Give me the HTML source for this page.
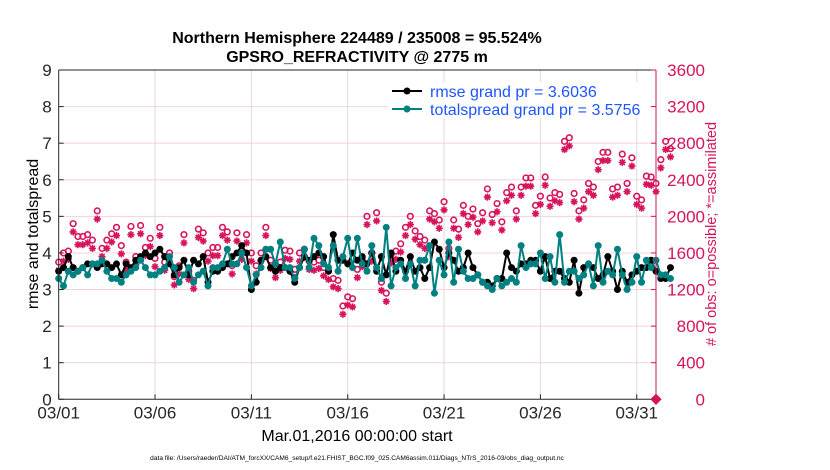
<!DOCTYPE html>
<html><head><meta charset="utf-8"><style>
body{margin:0;background:#fff;}
svg{display:block;font-family:"Liberation Sans",sans-serif;}
</style></head><body>
<svg id="chart" width="830" height="470" viewBox="0 0 830 470" xmlns="http://www.w3.org/2000/svg">
<text x="357" y="43" text-anchor="middle" font-size="16" font-weight="bold">Northern Hemisphere 224489 / 235008 = 95.524%</text>
<text x="357" y="62" text-anchor="middle" font-size="16" font-weight="bold">GPSRO_REFRACTIVITY @ 2775 m</text>
<g id="grid"></g>
<g id="marks"></g>
<g id="axes"></g>
<text transform="translate(38,234) rotate(-90)" text-anchor="middle" font-size="16">rmse and totalspread</text>
<text transform="translate(716,234) rotate(-90)" text-anchor="middle" font-size="14.5" fill="#d6135d"># of obs: o=possible; *=assimilated</text>
<text x="357" y="441" text-anchor="middle" font-size="16">Mar.01,2016 00:00:00 start</text>
<text x="357" y="460" text-anchor="middle" font-size="6.6">data file: /Users/raeder/DAI/ATM_forcXX/CAM6_setup/f.e21.FHIST_BGC.f09_025.CAM6assim.011/Diags_NTrS_2016-03/obs_diag_output.nc</text>
<g>
<rect x="388" y="82" width="262" height="36" fill="#fff"/>
<line x1="392" y1="91" x2="422" y2="91" stroke="#000" stroke-width="2"/><circle cx="407" cy="91" r="3.5" fill="#000"/>
<text x="430" y="97" font-size="16" fill="#1f55ff">rmse grand pr = 3.6036</text>
<line x1="392" y1="109" x2="422" y2="109" stroke="#008080" stroke-width="2"/><circle cx="407" cy="109" r="3.5" fill="#008080"/>
<text x="430" y="115" font-size="16" fill="#1f55ff">totalspread grand pr = 3.5756</text>
</g>
</svg>
<script>
const rmse=[3.5,3.6,3.9,3.6, 3.5,3.6,3.7,3.7, 3.6,3.7,3.7,3.6, 3.7,3.4,3.7,3.6, 3.8,3.9,4.0,3.9, 4.0,4.1,3.9,3.7,
3.4,3.6,3.8,3.4, 3.8,3.7,3.9,3.2, 3.5,3.5,3.6,3.7, 3.9,4.0,4.2,4.0, 3.0,3.2,3.8,3.9, 3.6,3.5,3.6,3.6,
3.5,3.2,3.6,3.9, 3.8,3.9,4.0,3.9, 3.5,4.5,3.8,3.8, 3.7,4.0,3.8,3.9, 3.7,4.0,3.5,3.9, 3.4,4.0,3.5,3.8,
3.5,3.9,3.5,3.6, 3.3,3.6,4.3,4.1, 3.6,4.0,3.8,3.5, 3.6,4.0,3.6,3.4, 3.2,3.2,3.1,3.3, 3.3,4.0,3.6,3.5,
3.7,3.7,3.8,3.8, 3.5,3.9,3.3,3.5, 3.5,3.3,3.2,3.8, 2.9,3.6,3.7,3.6, 3.3,3.4,3.9,3.5, 3.0,3.5,3.2,3.4,
3.5,3.6,3.6,3.8, 3.5,3.3,3.3,3.6];
const spread=[3.3,3.1,3.5,3.4, 3.5,3.6,3.4,3.7, 3.7,3.8,3.5,3.3, 3.3,3.2,3.4,3.5, 3.6,3.8,3.6,3.4, 3.4,3.5,3.6,3.9,
3.6,3.2,3.4,3.6, 3.2,3.4,3.5,3.1, 3.6,3.6,3.7,4.1, 3.7,3.7,4.0,3.6, 3.1,3.4,3.6,4.1, 4.1,3.7,4.3,3.6,
3.6,3.3,3.6,4.1, 3.6,4.4,4.2,3.7, 3.6,4.2,3.5,3.9, 4.4,3.6,4.4,3.7, 3.5,4.2,3.6,3.3, 4.7,3.1,3.6,3.7,
3.3,3.7,3.1,3.8, 3.8,4.2,2.9,3.8, 3.4,4.3,3.2,4.1, 3.5,3.3,3.3,3.4, 3.2,3.1,3.0,3.3, 3.1,3.2,3.3,3.2,
4.2,3.6,3.7,3.7, 4.0,3.3,3.9,3.2, 4.5,3.2,3.5,3.5, 3.3,3.4,3.7,3.1, 4.2,3.2,3.5,3.4, 4.1,3.4,3.0,3.2,
3.9,3.2,3.8,3.6, 3.8,3.4,3.4,3.3];
const possible=[1500,1600,1620,1920, 1780,1780,1800,1740, 2060,1650,1740,1810, 1880,1680,1500,1890, 1560,1900,1660,1760, 1540,1880,1500,1600,
1340,1460,1800,1400, 1300,1860,1820,1600, 1660,1660,1880,1830, 1460,1820,1620,1800, 1600,1460,1600,1880, 1520,1420,1500,1630,
1620,1420,1600,1640, 1510,1500,1520,1440, 1400,1320,1300,1020, 1120,1100,1420,1540, 2000,1600,2040,1280, 1160,1580,1620,1700,
1880,2000,1840,1780, 1740,2060,2030,1960, 2160,1650,1960,1860, 2120,2000,2080,1920, 2040,2300,2020,2140, 1940,2260,2320,2060,
2320,2420,2420,2120, 2220,2430,2200,2260, 2240,2820,2860,2250, 2060,2180,2360,2320, 2600,2700,2700,2300, 2320,2680,2360,2640,
2220,2180,2440,2430, 2360,2620,2820,2740];
const assimilated=possible.map(v=>v-90);
const xTickLabels=["03/01","03/06","03/11","03/16","03/21","03/26","03/31"];
const xTickDays=[0,5,10,15,20,25,30];
const yTicks=[0,1,2,3,4,5,6,7,8,9];
const y2Ticks=[0,400,800,1200,1600,2000,2400,2800,3200,3600];

const L=58.7,R=656,T=70,B=399.3;
const NS="http://www.w3.org/2000/svg";
const xs=d=>L+(R-L)*d/31;
const ys=v=>B-(B-T)*v/9;
const ys2=v=>B-(B-T)*v/3600;
const grid=document.getElementById('grid'),marks=document.getElementById('marks'),axes=document.getElementById('axes');
function mk(tag,attrs,parent){const e=document.createElementNS(NS,tag);for(const k in attrs)e.setAttribute(k,attrs[k]);parent.appendChild(e);return e;}
yTicks.forEach(v=>{if(v>0&&v<9){const l=mk('line',{x1:L,x2:R,y1:ys(v),y2:ys(v),stroke:'#f5d0dd','stroke-width':1},grid);

}});
xTickDays.forEach(d=>{if(d>0){const l=mk('line',{x1:xs(d),x2:xs(d),y1:T,y2:B,stroke:'#dcdcdc','stroke-width':1},grid);

}});
const t=i=>i/4;
possible.forEach((v,i)=>{const c=mk('circle',{cx:xs(t(i)),cy:ys2(v),r:2.8,fill:'none',stroke:'#d6135d','stroke-width':1.6},marks);

});
assimilated.forEach((v,i)=>{const cx=xs(t(i)),cy=ys2(v),r=3.6;
 const g=mk('path',{d:`M${cx-r} ${cy}H${cx+r}M${cx} ${cy-r}V${cy+r}M${cx-r*0.7} ${cy-r*0.7}L${cx+r*0.7} ${cy+r*0.7}M${cx-r*0.7} ${cy+r*0.7}L${cx+r*0.7} ${cy-r*0.7}`,stroke:'#d6135d','stroke-width':1.6,fill:'none'},marks);
 
 });
function series(arr,color,name){
 const p=mk('polyline',{points:arr.map((v,i)=>xs(t(i))+','+ys(v)).join(' '),fill:'none',stroke:color,'stroke-width':2},marks);
 
 
 arr.forEach((v,i)=>{const c=mk('circle',{cx:xs(t(i)),cy:ys(v),r:3.5,fill:color},marks);
 
 });
}
series(rmse,'#000','rmse');
series(spread,'#008080','totalspread');
const dm=mk('rect',{x:R-4,y:B-4,width:8,height:8,fill:'#d6135d',transform:`rotate(45 ${R} ${B})`},marks);


mk('line',{x1:L,x2:L,y1:T,y2:B,stroke:'#262626','stroke-width':1},axes);
mk('line',{x1:L,x2:R,y1:B,y2:B,stroke:'#262626','stroke-width':1},axes);
mk('line',{x1:L,x2:R,y1:T,y2:T,stroke:'#262626','stroke-width':1},axes);
mk('line',{x1:R,x2:R,y1:T,y2:B,stroke:'#d6135d','stroke-width':1},axes);
yTicks.forEach(v=>{mk('line',{x1:L,x2:L+5,y1:ys(v),y2:ys(v),stroke:'#262626'},axes);
 const tx=mk('text',{x:L-7,y:ys(v)+6,'text-anchor':'end','font-size':17,fill:'#262626'},axes);tx.textContent=v;
 
 });
y2Ticks.forEach(v=>{mk('line',{x1:R-5,x2:R,y1:ys2(v),y2:ys2(v),stroke:'#d6135d'},axes);
 const tx=mk('text',{x:R+49,y:ys2(v)+6,'text-anchor':'end','font-size':17,fill:'#d6135d'},axes);tx.textContent=v;
 
 });
xTickDays.forEach((d,k)=>{mk('line',{x1:xs(d),x2:xs(d),y1:B,y2:B-5,stroke:'#262626'},axes);
 const tx=mk('text',{x:xs(d),y:B+19,'text-anchor':'middle','font-size':17,fill:'#262626'},axes);tx.textContent=xTickLabels[k];
 
 });
</script>
</body></html>
